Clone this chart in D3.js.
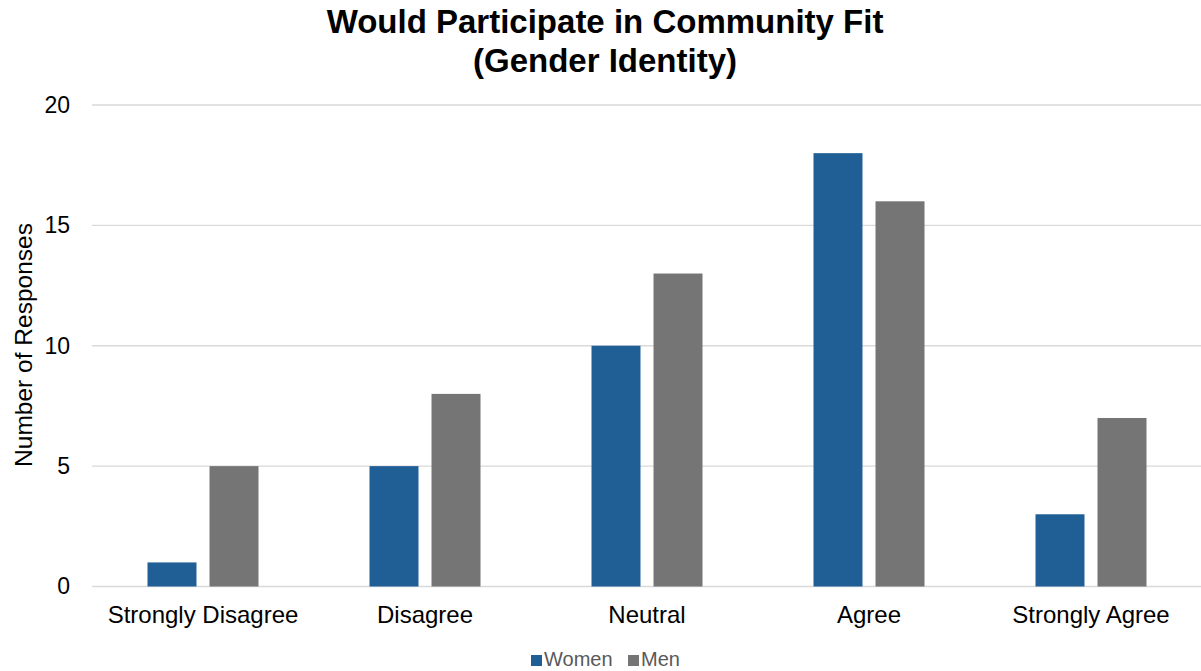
<!DOCTYPE html>
<html>
<head>
<meta charset="utf-8">
<script src="https://cdn.jsdelivr.net/npm/d3@7"></script>
<style>
  html, body { margin: 0; padding: 0; background: #fff; }
  svg { display: block; font-family: "Liberation Sans", Arial, sans-serif; }
</style>
</head>
<body>
<svg id="chart" width="1201" height="671"></svg>
<script>
// Survey responses by gender identity
const categories = ["Strongly Disagree", "Disagree", "Neutral", "Agree", "Strongly Agree"];
const seriesNames = ["Women", "Men"];
const women = [1, 5, 10, 18, 3];
const men = [5, 8, 13, 16, 7];
const yTicks = [0, 5, 10, 15, 20];
const colors = ["#1f5f95", "#757575"];

const svg = d3.select("#chart");
const plotLeft = 92, plotTop = 105, plotBottom = 586.5;

const x0 = d3.scaleBand()
  .domain(categories)
  .range([plotLeft, 1202])
  .paddingInner(0.5)
  .paddingOuter(0.25);

const x1 = d3.scaleBand()
  .domain(seriesNames)
  .range([0, x0.bandwidth()])
  .paddingInner(0.21);

const y = d3.scaleLinear().domain([0, 20]).range([plotBottom, plotTop]);

// gridlines
svg.append("g")
  .selectAll("line")
  .data(yTicks)
  .join("line")
  .attr("x1", plotLeft)
  .attr("x2", 1201)
  .attr("y1", d => y(d))
  .attr("y2", d => y(d))
  .attr("stroke", "#d9d9d9")
  .attr("stroke-width", 1.3);

// y axis labels
const yAxis = d3.axisLeft(y).tickValues(yTicks).tickSize(0).tickPadding(0);
const yG = svg.append("g").attr("transform", "translate(70,0)").call(yAxis);
yG.select(".domain").remove();
yG.selectAll("text")
  .attr("font-size", 23)
  .attr("fill", "#000")
  .attr("font-family", "Liberation Sans, Arial, sans-serif");

// bars
const data = categories.map((c, i) => ({ cat: c, vals: [women[i], men[i]] }));
svg.append("g")
  .selectAll("g")
  .data(data)
  .join("g")
  .attr("transform", d => `translate(${x0(d.cat)},0)`)
  .selectAll("rect")
  .data(d => d.vals.map((v, j) => ({ name: seriesNames[j], v, j })))
  .join("rect")
  .attr("x", d => x1(d.name))
  .attr("width", x1.bandwidth())
  .attr("y", d => y(d.v))
  .attr("height", d => y(0) - y(d.v))
  .attr("fill", d => colors[d.j]);

// x axis labels
const xAxis = d3.axisBottom(x0).tickSize(0).tickPadding(0);
const xG = svg.append("g").attr("transform", "translate(0,623)").call(xAxis);
xG.select(".domain").remove();
xG.selectAll("text")
  .attr("font-size", 24)
  .attr("fill", "#000")
  .attr("y", 0)
  .attr("dy", 0)
  .attr("font-family", "Liberation Sans, Arial, sans-serif");

// title
const title = svg.append("text")
  .attr("text-anchor", "middle")
  .attr("font-size", 33)
  .attr("font-weight", "bold")
  .attr("fill", "#000");
title.append("tspan").attr("x", 605).attr("y", 33).text("Would Participate in Community Fit");
title.append("tspan").attr("x", 605).attr("y", 72).text("(Gender Identity)");

// y axis title
svg.append("text")
  .attr("transform", "translate(32,345) rotate(-90)")
  .attr("text-anchor", "middle")
  .attr("font-size", 24.5)
  .attr("fill", "#000")
  .text("Number of Responses");

// legend
const legendItems = [
  { name: "Women", x: 531 },
  { name: "Men", x: 628 }
];
const lg = svg.append("g");
legendItems.forEach((it, i) => {
  lg.append("rect")
    .attr("x", it.x).attr("y", 655)
    .attr("width", 11).attr("height", 11)
    .attr("fill", colors[i]);
  lg.append("text")
    .attr("x", it.x + 13).attr("y", 666)
    .attr("font-size", 20)
    .attr("fill", "#595959")
    .text(it.name);
});
</script>
</body>
</html>
